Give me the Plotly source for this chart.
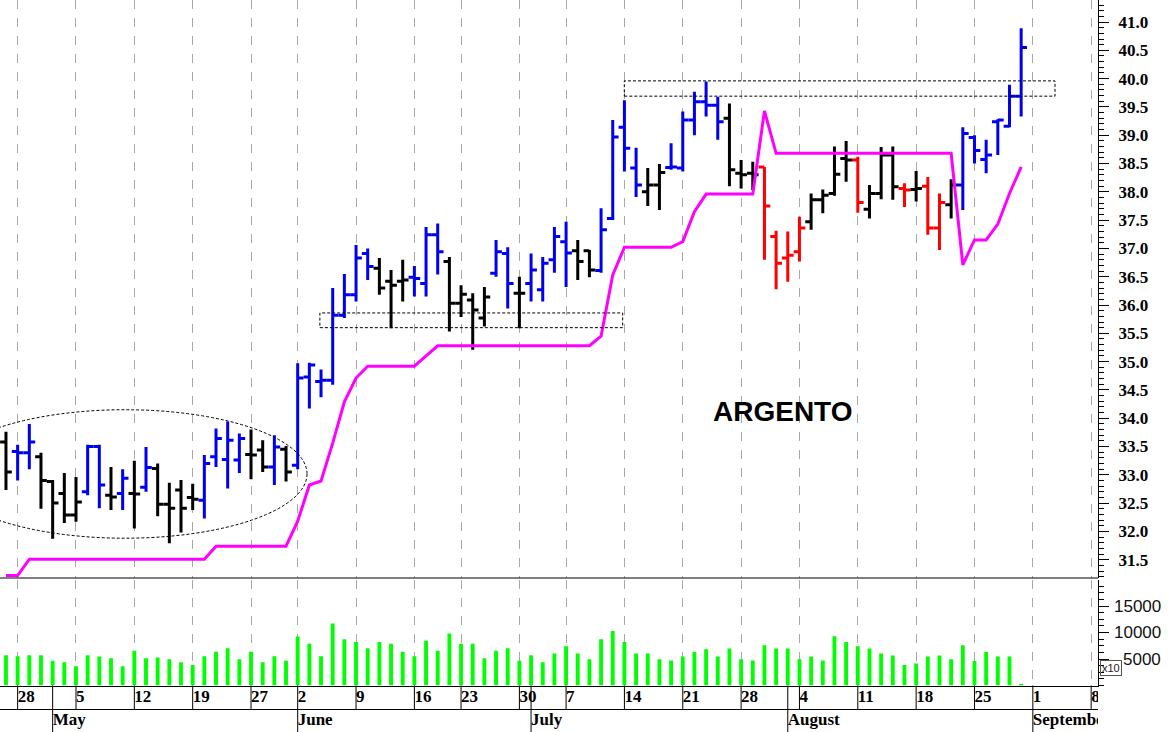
import plotly.graph_objects as go
import pandas as pd

# ---------------- data ----------------
first_day = "2025-04-25"
last_axis_day = "2025-09-12"
holidays = ["2025-05-26", "2025-06-19", "2025-07-04"]

opens = [33.58, 33.41, 33.39, 33.32, 32.88, 32.67, 32.29, 32.70, 33.50, 32.64,
         32.67, 32.67, 32.78, 33.11, 32.48, 32.73, 32.60, 32.55, 33.32, 33.27,
         33.26, 33.36, 33.44, 33.14, 33.45, 33.17, 34.73, 34.65, 34.67, 35.82,
         36.18, 36.91, 36.65, 36.42, 36.42, 36.49, 36.38, 37.24, 36.77, 36.03,
         36.09, 35.77, 36.56, 36.91, 36.21, 36.38, 36.27, 36.80, 37.12, 36.96,
         36.96, 36.61, 37.53, 39.14, 38.42, 38.00, 38.12, 38.43, 38.42, 39.27,
         39.59, 39.53, 39.30, 38.33, 38.33, 38.44, 37.21, 36.83, 36.94, 37.47,
         37.86, 37.97, 38.59, 38.56, 37.69, 37.97, 38.65, 38.06, 38.04, 38.10,
         37.36, 37.77, 38.12, 38.96, 38.57, 39.24, 39.16, 39.69]
highs = [33.76, 33.53, 33.90, 33.39, 32.91, 33.03, 32.96, 33.53, 33.53, 33.14,
         33.10, 33.25, 33.49, 33.20, 32.86, 32.91, 32.84, 33.35, 33.82, 33.94,
         33.73, 33.80, 33.61, 33.70, 33.51, 34.97, 34.98, 34.86, 36.30, 36.55,
         37.06, 37.00, 36.83, 36.62, 36.80, 36.69, 37.38, 37.44, 36.85, 36.35,
         36.21, 36.32, 37.15, 37.02, 36.50, 36.91, 36.85, 37.38, 37.47, 37.15,
         36.97, 37.71, 39.27, 39.62, 38.78, 38.42, 38.49, 38.86, 39.42, 39.77,
         39.95, 39.68, 39.56, 38.56, 38.53, 38.44, 37.31, 37.30, 37.56, 37.97,
         38.04, 38.80, 38.90, 38.62, 38.12, 38.79, 38.80, 38.15, 38.37, 38.26,
         37.97, 38.22, 39.14, 39.00, 38.92, 39.28, 39.89, 40.89]
lows = [32.73, 32.90, 33.10, 32.40, 31.87, 32.15, 32.17, 32.64, 32.41, 32.38,
        32.38, 32.05, 32.70, 32.27, 31.79, 31.98, 32.38, 32.23, 33.14, 32.76,
        33.03, 32.92, 33.05, 32.82, 32.88, 33.10, 34.17, 34.37, 34.59, 35.77,
        36.06, 36.44, 36.18, 35.59, 36.06, 36.15, 36.15, 36.54, 35.53, 35.79,
        35.21, 35.62, 36.50, 35.94, 35.59, 36.06, 36.06, 36.57, 36.32, 36.44,
        36.49, 36.57, 37.50, 38.36, 37.91, 37.75, 37.68, 38.39, 38.36, 39.00,
        39.33, 38.92, 38.10, 38.06, 38.03, 36.80, 36.28, 36.41, 36.77, 37.33,
        37.62, 37.93, 38.18, 37.63, 37.53, 37.87, 37.86, 37.73, 37.83, 37.24,
        36.97, 37.53, 37.68, 38.50, 38.33, 38.65, 39.14, 39.33]
closes = [33.05, 33.39, 33.58, 32.90, 32.50, 32.29, 32.52, 33.50, 32.82, 32.61,
          32.94, 32.66, 33.13, 32.48, 32.41, 32.41, 32.57, 33.20, 33.64, 33.61,
          33.64, 33.35, 33.14, 33.49, 33.05, 34.71, 34.94, 34.67, 35.82, 36.18,
          36.83, 36.68, 36.30, 36.35, 36.44, 36.47, 37.24, 36.94, 36.03, 36.19,
          35.91, 36.14, 36.94, 36.38, 36.21, 36.62, 36.74, 37.21, 36.92, 36.77,
          36.62, 37.33, 38.97, 38.77, 38.12, 38.12, 38.34, 38.44, 39.27, 39.59,
          39.53, 39.24, 38.39, 38.30, 38.30, 37.75, 36.74, 36.88, 37.36, 37.86,
          37.94, 38.31, 38.56, 37.81, 37.97, 38.65, 38.09, 38.03, 38.06, 37.36,
          37.81, 38.12, 39.03, 38.73, 38.65, 39.27, 39.69, 40.55]
# bar colour class: k = black, b = blue, r = red
bar_class = ["k", "b", "b", "k", "k", "k", "k", "b", "b", "k",
             "b", "k", "b", "k", "k", "k", "k", "b", "b", "b",
             "b", "k", "k", "b", "k", "b", "b", "b", "b", "b",
             "b", "b", "k", "k", "k", "b", "b", "b", "k", "k",
             "k", "k", "b", "b", "k", "b", "b", "b", "b", "k",
             "k", "b", "b", "b", "b", "k", "k", "b", "b", "b",
             "b", "b", "k", "k", "k", "r", "r", "r", "r", "k",
             "k", "k", "k", "r", "k", "k", "k", "r", "k", "r",
             "r", "k", "b", "b", "b", "b", "b", "b"]
stop_line = [31.22, 31.22, 31.51, 31.51, 31.51, 31.51, 31.51, 31.51, 31.51, 31.51,
             31.51, 31.51, 31.51, 31.51, 31.51, 31.51, 31.51, 31.51, 31.74, 31.74,
             31.74, 31.74, 31.74, 31.74, 31.74, 32.18, 32.82, 32.89, 33.56, 34.29,
             34.71, 34.92, 34.92, 34.92, 34.92, 34.92, 35.10, 35.28, 35.28, 35.28,
             35.28, 35.28, 35.28, 35.28, 35.28, 35.28, 35.28, 35.28, 35.28, 35.28,
             35.28, 35.45, 36.53, 37.02, 37.02, 37.02, 37.02, 37.02, 37.12, 37.65,
             37.96, 37.96, 37.96, 37.96, 37.96, 39.43, 38.68, 38.68, 38.68, 38.68,
             38.68, 38.68, 38.68, 38.68, 38.68, 38.68, 38.68, 38.68, 38.68, 38.68,
             38.68, 38.68, 36.71, 37.15, 37.15, 37.43, 37.97, 38.44]
volume = [5700, 5500, 5700, 5700, 4650, 4400, 3650, 5700, 5450, 5150,
          3650, 6550, 5150, 5300, 4950, 4400, 3850, 5500, 6350, 7050,
          4950, 6350, 4400, 5500, 4650, 9250, 7900, 5500, 11700, 8750,
          8200, 7050, 8200, 7900, 6350, 5500, 8450, 6550, 9800, 7900,
          7900, 5150, 6550, 7050, 4650, 5700, 4400, 6050, 7400, 6050,
          4950, 8750, 10300, 8200, 6050, 6050, 4950, 4700, 5450, 6300,
          6850, 5450, 7000, 4950, 4700, 7600, 7000, 7000, 4950, 5450,
          4700, 9300, 8200, 7400, 7000, 6050, 5650, 3850, 4150, 5450,
          5650, 4950, 7600, 4600, 6300, 5450, 5450, 250]

price_ticks = [31.5, 32.0, 32.5, 33.0, 33.5, 34.0, 34.5, 35.0, 35.5, 36.0,
               36.5, 37.0, 37.5, 38.0, 38.5, 39.0, 39.5, 40.0, 40.5, 41.0]
volume_ticks = [5000, 10000, 15000]
title_text = "ARGENTO"

# ---------------- derived calendar ----------------
all_days = [d for d in pd.bdate_range(first_day, last_axis_day)
            if d.strftime("%Y-%m-%d") not in holidays]
n = len(closes)
idx = list(range(n))
X_MIN, X_MAX = -0.512, 93.585

week_idx, week_lbl, month_idx, month_lbl = [], [], [], []
for k in range(1, len(all_days)):
    if k > X_MAX:
        break
    d, p = all_days[k], all_days[k - 1]
    if d.isocalendar()[1] != p.isocalendar()[1]:
        week_idx.append(k)
        week_lbl.append(str(d.day))
    if d.month != p.month:
        month_idx.append(k)
        month_lbl.append(d.strftime("%B"))

# ---------------- figure ----------------
H = 732
def py(px):
    return (H - px) / H

fig = go.Figure()

fig.add_trace(go.Bar(x=idx, y=volume, width=0.33, marker_color="#00FF00",
                     marker_line_width=0, xaxis="x2", yaxis="y2", hoverinfo="skip"))

palette = {"k": "#000000", "b": "#0000F0", "r": "#FF0000"}
for code, col in palette.items():
    sel = [i for i in idx if bar_class[i] == code]
    fig.add_trace(go.Ohlc(
        x=sel,
        open=[opens[i] for i in sel], high=[highs[i] for i in sel],
        low=[lows[i] for i in sel], close=[closes[i] for i in sel],
        increasing=dict(line=dict(color=col, width=3)),
        decreasing=dict(line=dict(color=col, width=3)),
        tickwidth=0.5, xaxis="x", yaxis="y", hoverinfo="skip"))

fig.add_trace(go.Scatter(x=idx, y=stop_line, mode="lines",
                         line=dict(color="#FF00FF", width=3),
                         xaxis="x", yaxis="y", hoverinfo="skip"))

serif_bold = dict(family="Liberation Serif", color="black", weight="bold")
fig.add_trace(go.Scatter(x=week_idx, y=[1.48] * len(week_idx), text=week_lbl,
                         mode="text", textposition="middle right",
                         textfont=dict(size=17, **serif_bold), cliponaxis=True,
                         xaxis="x3", yaxis="y3", hoverinfo="skip"))
fig.add_trace(go.Scatter(x=month_idx, y=[0.47] * len(month_idx), text=month_lbl,
                         mode="text", textposition="middle right",
                         textfont=dict(size=17, **serif_bold), cliponaxis=True,
                         xaxis="x3", yaxis="y3", hoverinfo="skip"))

grid = dict(showgrid=True, gridcolor="#A8A8A8", griddash="dash", gridwidth=1,
            tickmode="array", tickvals=week_idx, showticklabels=False, ticks="",
            zeroline=False, range=[X_MIN, X_MAX], domain=[0, 1])

shapes = []
# separators
shapes.append(dict(type="line", xref="paper", yref="paper", x0=0, x1=1,
                   y0=py(578), y1=py(578), line=dict(color="black", width=1)))
shapes.append(dict(type="line", xref="paper", yref="paper", x0=0, x1=1,
                   y0=py(709.5), y1=py(709.5), line=dict(color="black", width=1)))
for k in sorted(set(week_idx) | set(month_idx)):
    shapes.append(dict(type="line", xref="x", yref="paper", x0=k, x1=k,
                       y0=py(709.5), y1=py(685.5), line=dict(color="black", width=1)))
for k in month_idx:
    shapes.append(dict(type="line", xref="x", yref="paper", x0=k, x1=k,
                       y0=0, y1=py(709.5), line=dict(color="black", width=1)))
# annotations drawn on the chart
dot = dict(color="black", width=1, dash="3px,2px")
shapes.append(dict(type="circle", xref="x", yref="y", x0=-5.4, x1=25.8,
                   y0=31.88, y1=34.15, line=dot))
shapes.append(dict(type="rect", xref="x", yref="y", x0=26.9, x1=52.85,
                   y0=35.60, y1=35.86, line=dot))
shapes.append(dict(type="rect", xref="x", yref="y", x0=52.99, x1=89.9,
                   y0=39.69, y1=39.96, line=dot))

annotations = [dict(text=title_text, x=66.6, y=34.11, xref="x", yref="y",
                    showarrow=False,
                    font=dict(family="Liberation Sans", size=28, color="black", weight="bold"))]
for v in volume_ticks:
    annotations.append(dict(text=str(v), x=1163 / 1098, y=v, xref="paper", yref="y2",
                            xanchor="right", showarrow=False,
                            font=dict(family="Liberation Sans", size=17, color="#111111")))
annotations.append(dict(text="x10", x=1100 / 1098, y=py(676), xref="paper", yref="paper",
                        xanchor="left", showarrow=False, bordercolor="#555555",
                        borderwidth=1, borderpad=1,
                        font=dict(family="Liberation Sans", size=11, color="#222222")))

fig.update_layout(
    width=1168, height=732,
    margin=dict(l=0, r=70, t=0, b=0),
    paper_bgcolor="white", plot_bgcolor="white",
    showlegend=False,
    xaxis=dict(anchor="y", rangeslider=dict(visible=False), **grid),
    xaxis2=dict(anchor="y2", matches="x", showline=True, linecolor="black",
                linewidth=1, **grid),
    xaxis3=dict(anchor="y3", matches="x", range=[X_MIN, X_MAX], showgrid=False,
                showticklabels=False, ticks="", zeroline=False, domain=[0, 1]),
    yaxis=dict(domain=[py(578), 1], range=[31.177, 41.389], side="right", anchor="x",
               tickmode="array", tickvals=price_ticks,
               ticktext=[f"{t:.1f}" for t in price_ticks],
               ticks="outside", ticklen=10, tickcolor="black",
               showline=True, linecolor="black", linewidth=1,
               showgrid=False, zeroline=False, ticklabelstandoff=6,
               minor=dict(dtick=0.1, tick0=0, ticklen=5, ticks="outside",
                          tickcolor="black", showgrid=False),
               tickfont=dict(size=17, **serif_bold)),
    yaxis2=dict(domain=[py(685.5), py(580)], range=[0, 19906], side="right",
                anchor="x2", tickmode="array", tickvals=volume_ticks,
                showticklabels=False, ticks="outside", ticklen=10, tickcolor="black",
                showline=True, linecolor="black", linewidth=1,
                showgrid=False, zeroline=False,
                minor=dict(dtick=1250, tick0=0, ticklen=5, ticks="outside",
                           tickcolor="black", showgrid=False)),
    yaxis3=dict(domain=[0, py(685.5)], range=[0, 2], anchor="x3", visible=False),
    shapes=shapes,
    annotations=annotations,
)

fig.write_html(
    "out.html",
    config={"displayModeBar": False},
    post_script="document.body.style.margin='0';document.body.style.overflow='hidden';",
)
